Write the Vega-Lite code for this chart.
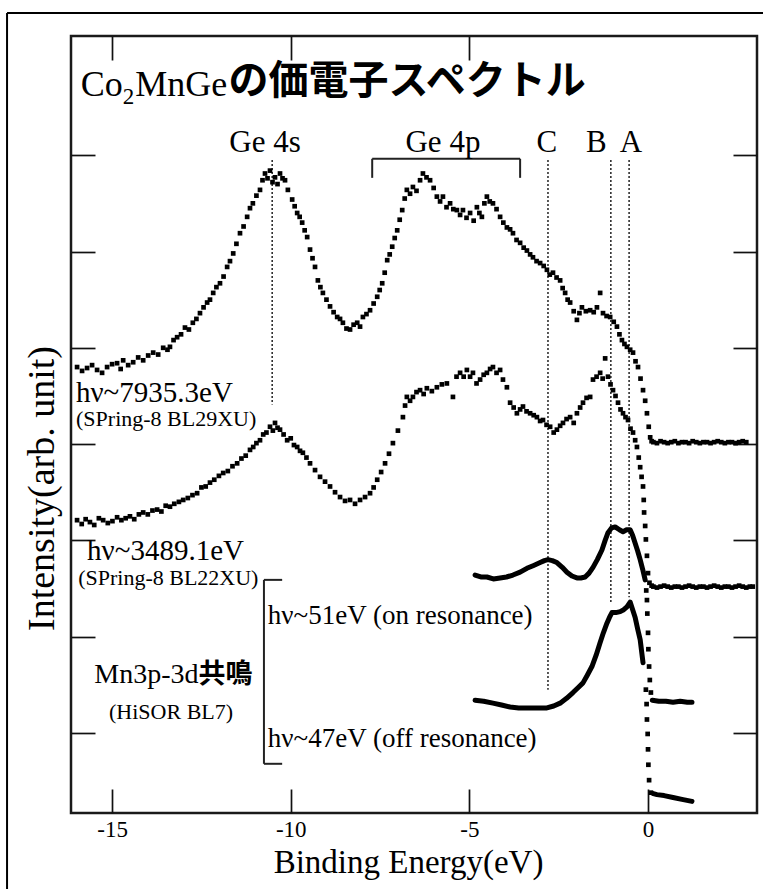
{
  "$schema": "https://vega.github.io/schema/vega-lite/v6.json",
  "width": 686,
  "height": 777,
  "autosize": "none",
  "padding": {"left": 71, "top": 36, "right": 6, "bottom": 76},
  "background": "white",
  "config": {
    "view": {"stroke": "#1a1a1a", "strokeWidth": 2.5},
    "axis": {"domain": false, "grid": false, "tickColor": "#111", "tickWidth": 1.7, "tickSize": -24, "labelFont": "Liberation Serif", "labelColor": "black", "titleFont": "Liberation Serif", "titleColor": "black", "titleFontWeight": "normal"}
  },
  "datasets": {
    "curves": [
      {"c":"a","k":"dot","x":-15.98,"y":4.80},{"c":"a","k":"dot","x":-15.84,"y":4.76},{"c":"a","k":"dot","x":-15.70,"y":4.79},{"c":"a","k":"dot","x":-15.56,"y":4.82},{"c":"a","k":"dot","x":-15.42,"y":4.77},{"c":"a","k":"dot","x":-15.28,"y":4.74},{"c":"a","k":"dot","x":-15.14,"y":4.80},{"c":"a","k":"dot","x":-15.00,"y":4.83},{"c":"a","k":"dot","x":-14.86,"y":4.84},{"c":"a","k":"dot","x":-14.76,"y":4.78},{"c":"a","k":"dot","x":-14.69,"y":4.87},{"c":"a","k":"dot","x":-14.55,"y":4.82},{"c":"a","k":"dot","x":-14.41,"y":4.85},{"c":"a","k":"dot","x":-14.27,"y":4.90},{"c":"a","k":"dot","x":-14.13,"y":4.87},{"c":"a","k":"dot","x":-13.99,"y":4.92},{"c":"a","k":"dot","x":-13.85,"y":4.95},{"c":"a","k":"dot","x":-13.71,"y":4.93},{"c":"a","k":"dot","x":-13.57,"y":5.00},{"c":"a","k":"dot","x":-13.45,"y":4.98},{"c":"a","k":"dot","x":-13.38,"y":5.01},{"c":"a","k":"dot","x":-13.28,"y":5.08},{"c":"a","k":"dot","x":-13.18,"y":5.11},{"c":"a","k":"dot","x":-13.07,"y":5.14},{"c":"a","k":"dot","x":-12.96,"y":5.21},{"c":"a","k":"dot","x":-12.85,"y":5.19},{"c":"a","k":"dot","x":-12.74,"y":5.26},{"c":"a","k":"dot","x":-12.64,"y":5.30},{"c":"a","k":"dot","x":-12.54,"y":5.36},{"c":"a","k":"dot","x":-12.44,"y":5.42},{"c":"a","k":"dot","x":-12.34,"y":5.47},{"c":"a","k":"dot","x":-12.26,"y":5.50},{"c":"a","k":"dot","x":-12.17,"y":5.57},{"c":"a","k":"dot","x":-12.08,"y":5.63},{"c":"a","k":"dot","x":-11.98,"y":5.67},{"c":"a","k":"dot","x":-11.88,"y":5.74},{"c":"a","k":"dot","x":-11.78,"y":5.84},{"c":"a","k":"dot","x":-11.70,"y":5.90},{"c":"a","k":"dot","x":-11.61,"y":5.98},{"c":"a","k":"dot","x":-11.52,"y":6.08},{"c":"a","k":"dot","x":-11.42,"y":6.19},{"c":"a","k":"dot","x":-11.32,"y":6.26},{"c":"a","k":"dot","x":-11.22,"y":6.36},{"c":"a","k":"dot","x":-11.14,"y":6.45},{"c":"a","k":"dot","x":-11.06,"y":6.50},{"c":"a","k":"dot","x":-10.96,"y":6.58},{"c":"a","k":"dot","x":-10.86,"y":6.64},{"c":"a","k":"dot","x":-10.79,"y":6.74},{"c":"a","k":"dot","x":-10.72,"y":6.81},{"c":"a","k":"dot","x":-10.65,"y":6.76},{"c":"a","k":"dot","x":-10.58,"y":6.84},{"c":"a","k":"dot","x":-10.51,"y":6.72},{"c":"a","k":"dot","x":-10.44,"y":6.77},{"c":"a","k":"dot","x":-10.37,"y":6.70},{"c":"a","k":"dot","x":-10.30,"y":6.81},{"c":"a","k":"dot","x":-10.23,"y":6.76},{"c":"a","k":"dot","x":-10.16,"y":6.74},{"c":"a","k":"dot","x":-10.08,"y":6.64},{"c":"a","k":"dot","x":-9.96,"y":6.54},{"c":"a","k":"dot","x":-9.89,"y":6.47},{"c":"a","k":"dot","x":-9.82,"y":6.40},{"c":"a","k":"dot","x":-9.75,"y":6.36},{"c":"a","k":"dot","x":-9.68,"y":6.30},{"c":"a","k":"dot","x":-9.61,"y":6.22},{"c":"a","k":"dot","x":-9.54,"y":6.15},{"c":"a","k":"dot","x":-9.46,"y":6.02},{"c":"a","k":"dot","x":-9.39,"y":5.93},{"c":"a","k":"dot","x":-9.32,"y":5.84},{"c":"a","k":"dot","x":-9.24,"y":5.70},{"c":"a","k":"dot","x":-9.17,"y":5.63},{"c":"a","k":"dot","x":-9.10,"y":5.57},{"c":"a","k":"dot","x":-9.00,"y":5.50},{"c":"a","k":"dot","x":-8.90,"y":5.43},{"c":"a","k":"dot","x":-8.80,"y":5.37},{"c":"a","k":"dot","x":-8.70,"y":5.32},{"c":"a","k":"dot","x":-8.62,"y":5.30},{"c":"a","k":"dot","x":-8.54,"y":5.26},{"c":"a","k":"dot","x":-8.44,"y":5.20},{"c":"a","k":"dot","x":-8.34,"y":5.19},{"c":"a","k":"dot","x":-8.24,"y":5.24},{"c":"a","k":"dot","x":-8.14,"y":5.26},{"c":"a","k":"dot","x":-8.06,"y":5.22},{"c":"a","k":"dot","x":-7.98,"y":5.32},{"c":"a","k":"dot","x":-7.88,"y":5.35},{"c":"a","k":"dot","x":-7.78,"y":5.39},{"c":"a","k":"dot","x":-7.68,"y":5.46},{"c":"a","k":"dot","x":-7.58,"y":5.53},{"c":"a","k":"dot","x":-7.51,"y":5.60},{"c":"a","k":"dot","x":-7.44,"y":5.67},{"c":"a","k":"dot","x":-7.37,"y":5.78},{"c":"a","k":"dot","x":-7.30,"y":5.91},{"c":"a","k":"dot","x":-7.23,"y":5.97},{"c":"a","k":"dot","x":-7.16,"y":6.05},{"c":"a","k":"dot","x":-7.09,"y":6.14},{"c":"a","k":"dot","x":-7.02,"y":6.22},{"c":"a","k":"dot","x":-6.95,"y":6.33},{"c":"a","k":"dot","x":-6.88,"y":6.43},{"c":"a","k":"dot","x":-6.81,"y":6.55},{"c":"a","k":"dot","x":-6.75,"y":6.64},{"c":"a","k":"dot","x":-6.66,"y":6.60},{"c":"a","k":"dot","x":-6.58,"y":6.67},{"c":"a","k":"dot","x":-6.48,"y":6.63},{"c":"a","k":"dot","x":-6.38,"y":6.74},{"c":"a","k":"dot","x":-6.30,"y":6.81},{"c":"a","k":"dot","x":-6.20,"y":6.77},{"c":"a","k":"dot","x":-6.10,"y":6.74},{"c":"a","k":"dot","x":-6.00,"y":6.66},{"c":"a","k":"dot","x":-5.91,"y":6.57},{"c":"a","k":"dot","x":-5.82,"y":6.52},{"c":"a","k":"dot","x":-5.74,"y":6.57},{"c":"a","k":"dot","x":-5.64,"y":6.46},{"c":"a","k":"dot","x":-5.54,"y":6.50},{"c":"a","k":"dot","x":-5.45,"y":6.44},{"c":"a","k":"dot","x":-5.35,"y":6.43},{"c":"a","k":"dot","x":-5.26,"y":6.38},{"c":"a","k":"dot","x":-5.18,"y":6.43},{"c":"a","k":"dot","x":-5.08,"y":6.35},{"c":"a","k":"dot","x":-4.98,"y":6.40},{"c":"a","k":"dot","x":-4.88,"y":6.32},{"c":"a","k":"dot","x":-4.79,"y":6.46},{"c":"a","k":"dot","x":-4.72,"y":6.40},{"c":"a","k":"dot","x":-4.65,"y":6.36},{"c":"a","k":"dot","x":-4.58,"y":6.50},{"c":"a","k":"dot","x":-4.51,"y":6.57},{"c":"a","k":"dot","x":-4.43,"y":6.52},{"c":"a","k":"dot","x":-4.34,"y":6.50},{"c":"a","k":"dot","x":-4.24,"y":6.44},{"c":"a","k":"dot","x":-4.14,"y":6.36},{"c":"a","k":"dot","x":-4.05,"y":6.30},{"c":"a","k":"dot","x":-3.95,"y":6.25},{"c":"a","k":"dot","x":-3.86,"y":6.23},{"c":"a","k":"dot","x":-3.78,"y":6.19},{"c":"a","k":"dot","x":-3.68,"y":6.12},{"c":"a","k":"dot","x":-3.58,"y":6.09},{"c":"a","k":"dot","x":-3.48,"y":6.04},{"c":"a","k":"dot","x":-3.39,"y":6.01},{"c":"a","k":"dot","x":-3.30,"y":5.97},{"c":"a","k":"dot","x":-3.22,"y":5.94},{"c":"a","k":"dot","x":-3.12,"y":5.90},{"c":"a","k":"dot","x":-3.02,"y":5.88},{"c":"a","k":"dot","x":-2.92,"y":5.85},{"c":"a","k":"dot","x":-2.83,"y":5.81},{"c":"a","k":"dot","x":-2.75,"y":5.76},{"c":"a","k":"dot","x":-2.66,"y":5.78},{"c":"a","k":"dot","x":-2.56,"y":5.73},{"c":"a","k":"dot","x":-2.46,"y":5.70},{"c":"a","k":"dot","x":-2.39,"y":5.62},{"c":"a","k":"dot","x":-2.32,"y":5.57},{"c":"a","k":"dot","x":-2.25,"y":5.50},{"c":"a","k":"dot","x":-2.18,"y":5.47},{"c":"a","k":"dot","x":-2.08,"y":5.38},{"c":"a","k":"dot","x":-1.99,"y":5.29},{"c":"a","k":"dot","x":-1.92,"y":5.36},{"c":"a","k":"dot","x":-1.85,"y":5.42},{"c":"a","k":"dot","x":-1.74,"y":5.38},{"c":"a","k":"dot","x":-1.62,"y":5.39},{"c":"a","k":"dot","x":-1.52,"y":5.37},{"c":"a","k":"dot","x":-1.43,"y":5.42},{"c":"a","k":"dot","x":-1.34,"y":5.57},{"c":"a","k":"dot","x":-1.26,"y":5.36},{"c":"a","k":"dot","x":-1.16,"y":5.33},{"c":"a","k":"dot","x":-1.06,"y":5.32},{"c":"a","k":"dot","x":-0.96,"y":5.27},{"c":"a","k":"dot","x":-0.87,"y":5.22},{"c":"a","k":"dot","x":-0.80,"y":5.14},{"c":"a","k":"dot","x":-0.73,"y":5.08},{"c":"a","k":"dot","x":-0.66,"y":5.04},{"c":"a","k":"dot","x":-0.59,"y":5.01},{"c":"a","k":"dot","x":-0.50,"y":4.98},{"c":"a","k":"dot","x":-0.42,"y":4.95},{"c":"a","k":"dot","x":-0.35,"y":4.86},{"c":"a","k":"dot","x":-0.28,"y":4.80},{"c":"a","k":"dot","x":-0.21,"y":4.68},{"c":"a","k":"dot","x":-0.14,"y":4.56},{"c":"a","k":"dot","x":-0.08,"y":4.45},{"c":"a","k":"dot","x":-0.03,"y":4.32},{"c":"a","k":"dot","x":0.02,"y":4.18},{"c":"a","k":"dot","x":0.06,"y":4.07},{"c":"a","k":"dot","x":0.10,"y":4.03},
      {"c":"a","k":"dot","x":0.15,"y":4.02},{"c":"a","k":"dot","x":0.25,"y":4.01},{"c":"a","k":"dot","x":0.35,"y":4.03},{"c":"a","k":"dot","x":0.45,"y":4.02},{"c":"a","k":"dot","x":0.55,"y":4.01},{"c":"a","k":"dot","x":0.65,"y":4.02},{"c":"a","k":"dot","x":0.75,"y":4.03},{"c":"a","k":"dot","x":0.85,"y":4.01},{"c":"a","k":"dot","x":0.95,"y":4.02},{"c":"a","k":"dot","x":1.05,"y":4.02},{"c":"a","k":"dot","x":1.15,"y":4.01},{"c":"a","k":"dot","x":1.25,"y":4.03},{"c":"a","k":"dot","x":1.35,"y":4.02},{"c":"a","k":"dot","x":1.45,"y":4.01},{"c":"a","k":"dot","x":1.55,"y":4.02},{"c":"a","k":"dot","x":1.65,"y":4.02},{"c":"a","k":"dot","x":1.75,"y":4.01},{"c":"a","k":"dot","x":1.85,"y":4.02},{"c":"a","k":"dot","x":1.95,"y":4.03},{"c":"a","k":"dot","x":2.05,"y":4.02},{"c":"a","k":"dot","x":2.15,"y":4.01},{"c":"a","k":"dot","x":2.25,"y":4.02},{"c":"a","k":"dot","x":2.35,"y":4.02},{"c":"a","k":"dot","x":2.45,"y":4.01},{"c":"a","k":"dot","x":2.55,"y":4.02},{"c":"a","k":"dot","x":2.65,"y":4.03},{"c":"a","k":"dot","x":2.75,"y":4.02},
      {"c":"b","k":"dot","x":-15.98,"y":3.21},{"c":"b","k":"dot","x":-15.85,"y":3.17},{"c":"b","k":"dot","x":-15.74,"y":3.22},{"c":"b","k":"dot","x":-15.62,"y":3.19},{"c":"b","k":"dot","x":-15.50,"y":3.16},{"c":"b","k":"dot","x":-15.37,"y":3.23},{"c":"b","k":"dot","x":-15.25,"y":3.21},{"c":"b","k":"dot","x":-15.12,"y":3.18},{"c":"b","k":"dot","x":-14.99,"y":3.20},{"c":"b","k":"dot","x":-14.86,"y":3.24},{"c":"b","k":"dot","x":-14.74,"y":3.21},{"c":"b","k":"dot","x":-14.62,"y":3.23},{"c":"b","k":"dot","x":-14.50,"y":3.25},{"c":"b","k":"dot","x":-14.38,"y":3.22},{"c":"b","k":"dot","x":-14.25,"y":3.27},{"c":"b","k":"dot","x":-14.13,"y":3.29},{"c":"b","k":"dot","x":-14.00,"y":3.27},{"c":"b","k":"dot","x":-13.87,"y":3.31},{"c":"b","k":"dot","x":-13.74,"y":3.32},{"c":"b","k":"dot","x":-13.62,"y":3.30},{"c":"b","k":"dot","x":-13.50,"y":3.36},{"c":"b","k":"dot","x":-13.38,"y":3.35},{"c":"b","k":"dot","x":-13.26,"y":3.38},{"c":"b","k":"dot","x":-13.13,"y":3.40},{"c":"b","k":"dot","x":-13.01,"y":3.42},{"c":"b","k":"dot","x":-12.88,"y":3.44},{"c":"b","k":"dot","x":-12.75,"y":3.47},{"c":"b","k":"dot","x":-12.62,"y":3.49},{"c":"b","k":"dot","x":-12.50,"y":3.55},{"c":"b","k":"dot","x":-12.38,"y":3.56},{"c":"b","k":"dot","x":-12.26,"y":3.60},{"c":"b","k":"dot","x":-12.14,"y":3.63},{"c":"b","k":"dot","x":-12.01,"y":3.67},{"c":"b","k":"dot","x":-11.89,"y":3.70},{"c":"b","k":"dot","x":-11.76,"y":3.72},{"c":"b","k":"dot","x":-11.63,"y":3.77},{"c":"b","k":"dot","x":-11.50,"y":3.80},{"c":"b","k":"dot","x":-11.38,"y":3.85},{"c":"b","k":"dot","x":-11.26,"y":3.88},{"c":"b","k":"dot","x":-11.14,"y":3.94},{"c":"b","k":"dot","x":-11.05,"y":3.97},{"c":"b","k":"dot","x":-10.96,"y":4.01},{"c":"b","k":"dot","x":-10.86,"y":4.04},{"c":"b","k":"dot","x":-10.77,"y":4.10},{"c":"b","k":"dot","x":-10.68,"y":4.12},{"c":"b","k":"dot","x":-10.58,"y":4.18},{"c":"b","k":"dot","x":-10.50,"y":4.14},{"c":"b","k":"dot","x":-10.44,"y":4.22},{"c":"b","k":"dot","x":-10.37,"y":4.17},{"c":"b","k":"dot","x":-10.30,"y":4.15},{"c":"b","k":"dot","x":-10.20,"y":4.10},{"c":"b","k":"dot","x":-10.10,"y":4.04},{"c":"b","k":"dot","x":-10.00,"y":4.06},{"c":"b","k":"dot","x":-9.91,"y":3.99},{"c":"b","k":"dot","x":-9.82,"y":3.97},{"c":"b","k":"dot","x":-9.74,"y":3.93},{"c":"b","k":"dot","x":-9.66,"y":3.91},{"c":"b","k":"dot","x":-9.56,"y":3.86},{"c":"b","k":"dot","x":-9.46,"y":3.80},{"c":"b","k":"dot","x":-9.32,"y":3.73},{"c":"b","k":"dot","x":-9.18,"y":3.66},{"c":"b","k":"dot","x":-9.04,"y":3.61},{"c":"b","k":"dot","x":-8.90,"y":3.56},{"c":"b","k":"dot","x":-8.76,"y":3.50},{"c":"b","k":"dot","x":-8.62,"y":3.45},{"c":"b","k":"dot","x":-8.48,"y":3.41},{"c":"b","k":"dot","x":-8.34,"y":3.42},{"c":"b","k":"dot","x":-8.20,"y":3.38},{"c":"b","k":"dot","x":-8.06,"y":3.42},{"c":"b","k":"dot","x":-7.92,"y":3.45},{"c":"b","k":"dot","x":-7.78,"y":3.49},{"c":"b","k":"dot","x":-7.68,"y":3.55},{"c":"b","k":"dot","x":-7.58,"y":3.63},{"c":"b","k":"dot","x":-7.47,"y":3.71},{"c":"b","k":"dot","x":-7.36,"y":3.80},{"c":"b","k":"dot","x":-7.25,"y":3.90},{"c":"b","k":"dot","x":-7.14,"y":4.01},{"c":"b","k":"dot","x":-7.00,"y":4.14},{"c":"b","k":"dot","x":-6.86,"y":4.28},{"c":"b","k":"dot","x":-6.80,"y":4.40},{"c":"b","k":"dot","x":-6.75,"y":4.49},{"c":"b","k":"dot","x":-6.66,"y":4.45},{"c":"b","k":"dot","x":-6.58,"y":4.49},{"c":"b","k":"dot","x":-6.48,"y":4.54},{"c":"b","k":"dot","x":-6.38,"y":4.56},{"c":"b","k":"dot","x":-6.28,"y":4.52},{"c":"b","k":"dot","x":-6.19,"y":4.58},{"c":"b","k":"dot","x":-6.05,"y":4.55},{"c":"b","k":"dot","x":-5.91,"y":4.59},{"c":"b","k":"dot","x":-5.77,"y":4.62},{"c":"b","k":"dot","x":-5.63,"y":4.63},{"c":"b","k":"dot","x":-5.46,"y":4.49},{"c":"b","k":"dot","x":-5.36,"y":4.70},{"c":"b","k":"dot","x":-5.26,"y":4.74},{"c":"b","k":"dot","x":-5.16,"y":4.70},{"c":"b","k":"dot","x":-5.07,"y":4.77},{"c":"b","k":"dot","x":-4.98,"y":4.70},{"c":"b","k":"dot","x":-4.90,"y":4.74},{"c":"b","k":"dot","x":-4.80,"y":4.63},{"c":"b","k":"dot","x":-4.70,"y":4.67},{"c":"b","k":"dot","x":-4.60,"y":4.72},{"c":"b","k":"dot","x":-4.51,"y":4.74},{"c":"b","k":"dot","x":-4.42,"y":4.78},{"c":"b","k":"dot","x":-4.34,"y":4.80},{"c":"b","k":"dot","x":-4.24,"y":4.74},{"c":"b","k":"dot","x":-4.14,"y":4.77},{"c":"b","k":"dot","x":-4.06,"y":4.67},{"c":"b","k":"dot","x":-3.95,"y":4.59},{"c":"b","k":"dot","x":-3.86,"y":4.43},{"c":"b","k":"dot","x":-3.76,"y":4.38},{"c":"b","k":"dot","x":-3.67,"y":4.32},{"c":"b","k":"dot","x":-3.58,"y":4.36},{"c":"b","k":"dot","x":-3.50,"y":4.39},{"c":"b","k":"dot","x":-3.40,"y":4.34},{"c":"b","k":"dot","x":-3.30,"y":4.32},{"c":"b","k":"dot","x":-3.20,"y":4.30},{"c":"b","k":"dot","x":-3.11,"y":4.28},{"c":"b","k":"dot","x":-3.02,"y":4.24},{"c":"b","k":"dot","x":-2.94,"y":4.25},{"c":"b","k":"dot","x":-2.84,"y":4.20},{"c":"b","k":"dot","x":-2.74,"y":4.18},{"c":"b","k":"dot","x":-2.64,"y":4.12},{"c":"b","k":"dot","x":-2.55,"y":4.15},{"c":"b","k":"dot","x":-2.46,"y":4.19},{"c":"b","k":"dot","x":-2.38,"y":4.22},{"c":"b","k":"dot","x":-2.28,"y":4.26},{"c":"b","k":"dot","x":-2.18,"y":4.28},{"c":"b","k":"dot","x":-2.08,"y":4.22},{"c":"b","k":"dot","x":-1.99,"y":4.32},{"c":"b","k":"dot","x":-1.90,"y":4.38},{"c":"b","k":"dot","x":-1.82,"y":4.43},{"c":"b","k":"dot","x":-1.72,"y":4.48},{"c":"b","k":"dot","x":-1.62,"y":4.49},{"c":"b","k":"dot","x":-1.54,"y":4.67},{"c":"b","k":"dot","x":-1.44,"y":4.70},{"c":"b","k":"dot","x":-1.34,"y":4.74},{"c":"b","k":"dot","x":-1.27,"y":4.68},{"c":"b","k":"dot","x":-1.20,"y":4.89},{"c":"b","k":"dot","x":-1.12,"y":4.70},{"c":"b","k":"dot","x":-1.05,"y":4.62},{"c":"b","k":"dot","x":-0.98,"y":4.56},{"c":"b","k":"dot","x":-0.91,"y":4.50},{"c":"b","k":"dot","x":-0.84,"y":4.43},{"c":"b","k":"dot","x":-0.77,"y":4.36},{"c":"b","k":"dot","x":-0.70,"y":4.32},{"c":"b","k":"dot","x":-0.63,"y":4.28},{"c":"b","k":"dot","x":-0.56,"y":4.25},{"c":"b","k":"dot","x":-0.49,"y":4.16},{"c":"b","k":"dot","x":-0.42,"y":4.12},{"c":"b","k":"dot","x":-0.36,"y":4.04},{"c":"b","k":"dot","x":-0.31,"y":3.97},{"c":"b","k":"dot","x":-0.26,"y":3.86},{"c":"b","k":"dot","x":-0.22,"y":3.76},{"c":"b","k":"dot","x":-0.18,"y":3.66},{"c":"b","k":"dot","x":-0.14,"y":3.56},{"c":"b","k":"dot","x":-0.12,"y":3.42},{"c":"b","k":"dot","x":-0.11,"y":3.29},{"c":"b","k":"dot","x":-0.08,"y":3.15},{"c":"b","k":"dot","x":-0.06,"y":3.01},{"c":"b","k":"dot","x":-0.03,"y":2.84},{"c":"b","k":"dot","x":0.00,"y":2.66},{"c":"b","k":"dot","x":0.04,"y":2.56},{"c":"b","k":"dot","x":0.10,"y":2.53},
      {"c":"b","k":"dot","x":0.15,"y":2.52},{"c":"b","k":"dot","x":0.25,"y":2.51},{"c":"b","k":"dot","x":0.35,"y":2.52},{"c":"b","k":"dot","x":0.45,"y":2.53},{"c":"b","k":"dot","x":0.55,"y":2.52},{"c":"b","k":"dot","x":0.65,"y":2.51},{"c":"b","k":"dot","x":0.75,"y":2.52},{"c":"b","k":"dot","x":0.85,"y":2.52},{"c":"b","k":"dot","x":0.95,"y":2.51},{"c":"b","k":"dot","x":1.05,"y":2.52},{"c":"b","k":"dot","x":1.15,"y":2.53},{"c":"b","k":"dot","x":1.25,"y":2.52},{"c":"b","k":"dot","x":1.35,"y":2.51},{"c":"b","k":"dot","x":1.45,"y":2.52},{"c":"b","k":"dot","x":1.55,"y":2.52},{"c":"b","k":"dot","x":1.65,"y":2.51},{"c":"b","k":"dot","x":1.75,"y":2.52},{"c":"b","k":"dot","x":1.85,"y":2.53},{"c":"b","k":"dot","x":1.95,"y":2.52},{"c":"b","k":"dot","x":2.05,"y":2.51},{"c":"b","k":"dot","x":2.15,"y":2.52},{"c":"b","k":"dot","x":2.25,"y":2.52},{"c":"b","k":"dot","x":2.35,"y":2.51},{"c":"b","k":"dot","x":2.45,"y":2.52},{"c":"b","k":"dot","x":2.55,"y":2.53},{"c":"b","k":"dot","x":2.65,"y":2.52},{"c":"b","k":"dot","x":2.75,"y":2.51},{"c":"b","k":"dot","x":2.85,"y":2.52},{"c":"b","k":"dot","x":2.93,"y":2.52},
      {"c":"c","k":"line","g":"c1","x":-4.84,"y":2.64},{"c":"c","k":"line","g":"c1","x":-4.68,"y":2.62},{"c":"c","k":"line","g":"c1","x":-4.51,"y":2.62},{"c":"c","k":"line","g":"c1","x":-4.33,"y":2.60},{"c":"c","k":"line","g":"c1","x":-4.14,"y":2.61},{"c":"c","k":"line","g":"c1","x":-3.96,"y":2.62},{"c":"c","k":"line","g":"c1","x":-3.78,"y":2.64},{"c":"c","k":"line","g":"c1","x":-3.58,"y":2.67},{"c":"c","k":"line","g":"c1","x":-3.39,"y":2.71},{"c":"c","k":"line","g":"c1","x":-3.20,"y":2.74},{"c":"c","k":"line","g":"c1","x":-3.02,"y":2.77},{"c":"c","k":"line","g":"c1","x":-2.90,"y":2.79},{"c":"c","k":"line","g":"c1","x":-2.80,"y":2.80},{"c":"c","k":"line","g":"c1","x":-2.68,"y":2.79},{"c":"c","k":"line","g":"c1","x":-2.55,"y":2.77},{"c":"c","k":"line","g":"c1","x":-2.40,"y":2.72},{"c":"c","k":"line","g":"c1","x":-2.27,"y":2.67},{"c":"c","k":"line","g":"c1","x":-2.13,"y":2.63},{"c":"c","k":"line","g":"c1","x":-1.99,"y":2.61},{"c":"c","k":"line","g":"c1","x":-1.88,"y":2.61},{"c":"c","k":"line","g":"c1","x":-1.76,"y":2.62},{"c":"c","k":"line","g":"c1","x":-1.65,"y":2.66},{"c":"c","k":"line","g":"c1","x":-1.54,"y":2.72},{"c":"c","k":"line","g":"c1","x":-1.42,"y":2.80},{"c":"c","k":"line","g":"c1","x":-1.29,"y":2.90},{"c":"c","k":"line","g":"c1","x":-1.20,"y":3.00},{"c":"c","k":"line","g":"c1","x":-1.12,"y":3.08},{"c":"c","k":"line","g":"c1","x":-1.02,"y":3.13},{"c":"c","k":"line","g":"c1","x":-0.92,"y":3.14},{"c":"c","k":"line","g":"c1","x":-0.80,"y":3.11},{"c":"c","k":"line","g":"c1","x":-0.70,"y":3.09},{"c":"c","k":"line","g":"c1","x":-0.60,"y":3.11},{"c":"c","k":"line","g":"c1","x":-0.50,"y":3.11},{"c":"c","k":"line","g":"c1","x":-0.43,"y":3.05},{"c":"c","k":"line","g":"c1","x":-0.36,"y":2.97},{"c":"c","k":"line","g":"c1","x":-0.29,"y":2.89},{"c":"c","k":"line","g":"c1","x":-0.22,"y":2.80},{"c":"c","k":"line","g":"c1","x":-0.15,"y":2.70},{"c":"c","k":"line","g":"c1","x":-0.08,"y":2.59},
      {"c":"c","k":"dot","x":-0.05,"y":2.48},{"c":"c","k":"dot","x":-0.03,"y":2.38},{"c":"c","k":"dot","x":-0.02,"y":2.24},{"c":"c","k":"dot","x":0.00,"y":2.04},{"c":"c","k":"dot","x":0.01,"y":1.87},{"c":"c","k":"dot","x":0.03,"y":1.69},{"c":"c","k":"dot","x":0.05,"y":1.55},{"c":"c","k":"dot","x":0.08,"y":1.42},
      {"c":"c","k":"line","g":"c2","x":0.12,"y":1.34},{"c":"c","k":"line","g":"c2","x":0.30,"y":1.33},{"c":"c","k":"line","g":"c2","x":0.50,"y":1.33},{"c":"c","k":"line","g":"c2","x":0.70,"y":1.32},{"c":"c","k":"line","g":"c2","x":0.90,"y":1.33},{"c":"c","k":"line","g":"c2","x":1.10,"y":1.32},{"c":"c","k":"line","g":"c2","x":1.23,"y":1.32},
      {"c":"d","k":"line","g":"d1","x":-4.84,"y":1.34},{"c":"d","k":"line","g":"d1","x":-4.60,"y":1.33},{"c":"d","k":"line","g":"d1","x":-4.34,"y":1.31},{"c":"d","k":"line","g":"d1","x":-4.10,"y":1.29},{"c":"d","k":"line","g":"d1","x":-3.86,"y":1.27},{"c":"d","k":"line","g":"d1","x":-3.62,"y":1.26},{"c":"d","k":"line","g":"d1","x":-3.39,"y":1.26},{"c":"d","k":"line","g":"d1","x":-3.10,"y":1.26},{"c":"d","k":"line","g":"d1","x":-2.83,"y":1.26},{"c":"d","k":"line","g":"d1","x":-2.64,"y":1.28},{"c":"d","k":"line","g":"d1","x":-2.46,"y":1.31},{"c":"d","k":"line","g":"d1","x":-2.28,"y":1.36},{"c":"d","k":"line","g":"d1","x":-2.10,"y":1.42},{"c":"d","k":"line","g":"d1","x":-1.96,"y":1.47},{"c":"d","k":"line","g":"d1","x":-1.82,"y":1.52},{"c":"d","k":"line","g":"d1","x":-1.70,"y":1.60},{"c":"d","k":"line","g":"d1","x":-1.57,"y":1.69},{"c":"d","k":"line","g":"d1","x":-1.45,"y":1.81},{"c":"d","k":"line","g":"d1","x":-1.34,"y":1.94},{"c":"d","k":"line","g":"d1","x":-1.25,"y":2.04},{"c":"d","k":"line","g":"d1","x":-1.15,"y":2.14},{"c":"d","k":"line","g":"d1","x":-1.08,"y":2.20},{"c":"d","k":"line","g":"d1","x":-1.01,"y":2.25},{"c":"d","k":"line","g":"d1","x":-0.90,"y":2.25},{"c":"d","k":"line","g":"d1","x":-0.78,"y":2.26},{"c":"d","k":"line","g":"d1","x":-0.68,"y":2.28},{"c":"d","k":"line","g":"d1","x":-0.59,"y":2.31},{"c":"d","k":"line","g":"d1","x":-0.50,"y":2.36},{"c":"d","k":"line","g":"d1","x":-0.43,"y":2.28},{"c":"d","k":"line","g":"d1","x":-0.36,"y":2.20},{"c":"d","k":"line","g":"d1","x":-0.29,"y":2.08},{"c":"d","k":"line","g":"d1","x":-0.22,"y":1.97},{"c":"d","k":"line","g":"d1","x":-0.14,"y":1.73},
      {"c":"d","k":"dot","x":-0.06,"y":1.45},{"c":"d","k":"dot","x":-0.04,"y":1.30},{"c":"d","k":"dot","x":-0.03,"y":1.14},{"c":"d","k":"dot","x":-0.01,"y":0.99},{"c":"d","k":"dot","x":0.00,"y":0.83},{"c":"d","k":"dot","x":0.01,"y":0.67},{"c":"d","k":"dot","x":0.03,"y":0.51},{"c":"d","k":"dot","x":0.08,"y":0.38},
      {"c":"d","k":"line","g":"d2","x":0.15,"y":0.37},{"c":"d","k":"line","g":"d2","x":0.25,"y":0.36},{"c":"d","k":"line","g":"d2","x":0.45,"y":0.35},{"c":"d","k":"line","g":"d2","x":0.70,"y":0.33},{"c":"d","k":"line","g":"d2","x":0.95,"y":0.31},{"c":"d","k":"line","g":"d2","x":1.23,"y":0.29}
    ]
  },
  "layer": [
    {
      "data": {"values": [
        {"x": -17.94, "x2": 4.5, "y": 8.477, "y2": 8.477},
        {"x": -17.94, "x2": -17.94, "y": 8.477, "y2": -1.5}
      ]},
      "mark": {"type": "rule", "color": "black", "strokeWidth": 2, "clip": false},
      "encoding": {
        "x": {"field": "x", "type": "quantitative", "scale": {"domain": [-16.15, 3.05], "nice": false, "zero": false}, "axis": null},
        "x2": {"field": "x2"},
        "y": {"field": "y", "type": "quantitative", "scale": {"domain": [0.169, 8.238], "nice": false, "zero": false}, "axis": null},
        "y2": {"field": "y2"}
      }
    },
    {
      "mark": {"type": "rule", "color": "black", "strokeWidth": 2},
      "encoding": {
        "x": {"datum": 0, "type": "quantitative", "scale": {"domain": [-16.15, 3.05], "nice": false, "zero": false}, "axis": null}
      }
    },
    {
      "data": {"values": [
        {"x": -10.52, "x2": -10.52, "y": 6.95, "y2": 4.41},
        {"x": -2.80, "x2": -2.80, "y": 6.95, "y2": 1.45},
        {"x": -1.04, "x2": -1.04, "y": 6.95, "y2": 2.36},
        {"x": -0.53, "x2": -0.53, "y": 6.95, "y2": 2.41}
      ]},
      "mark": {"type": "rule", "color": "black", "strokeWidth": 1.3, "strokeDash": [2, 2]},
      "encoding": {
        "x": {"field": "x", "type": "quantitative", "scale": {"domain": [-16.15, 3.05], "nice": false, "zero": false}, "axis": null},
        "x2": {"field": "x2"},
        "y": {"field": "y", "type": "quantitative", "scale": {"domain": [0.169, 8.238], "nice": false, "zero": false}, "axis": null},
        "y2": {"field": "y2"}
      }
    },
    {
      "data": {"values": [
        {"x": -7.72, "x2": -3.58, "y": 6.963, "y2": 6.963},
        {"x": -7.72, "x2": -7.72, "y": 6.963, "y2": 6.765},
        {"x": -3.58, "x2": -3.58, "y": 6.963, "y2": 6.765},
        {"x": -10.75, "x2": -10.75, "y": 2.59, "y2": 0.68},
        {"x": -10.75, "x2": -10.24, "y": 2.59, "y2": 2.59},
        {"x": -10.75, "x2": -10.24, "y": 0.68, "y2": 0.68}
      ]},
      "mark": {"type": "rule", "color": "#222", "strokeWidth": 2},
      "encoding": {
        "x": {"field": "x", "type": "quantitative", "scale": {"domain": [-16.15, 3.05], "nice": false, "zero": false}, "axis": null},
        "x2": {"field": "x2"},
        "y": {"field": "y", "type": "quantitative", "scale": {"domain": [0.169, 8.238], "nice": false, "zero": false}, "axis": null},
        "y2": {"field": "y2"}
      }
    },
    {
      "data": {"name": "curves"},
      "transform": [{"filter": "datum.k === 'dot'"}],
      "mark": {"type": "point", "shape": "square", "filled": true, "size": 22, "color": "black", "opacity": 1},
      "encoding": {
        "x": {"field": "x", "type": "quantitative", "scale": {"domain": [-16.15, 3.05], "nice": false, "zero": false},
          "axis": {"orient": "bottom", "values": [-15, -10, -5, 0], "labelExpr": "'' + datum.value", "labelFontSize": 23, "labelPadding": 29, "title": "Binding Energy(eV)", "titleFontSize": 33, "titleX": 337, "titleY": 59, "titleAlign": "center", "titleBaseline": "alphabetic"}},
        "y": {"field": "y", "type": "quantitative", "scale": {"domain": [0.169, 8.238], "nice": false, "zero": false},
          "axis": {"orient": "left", "values": [1, 2, 3, 4, 5, 6, 7], "labels": false, "title": "Intensity(arb. unit)", "titleFontSize": 38, "titleX": -29, "titleY": 452, "titleAngle": -90, "titleAlign": "center", "titleBaseline": "middle"}}
      }
    },
    {
      "data": {"name": "curves"},
      "transform": [{"filter": "datum.k === 'line'"}],
      "mark": {"type": "line", "color": "black", "strokeWidth": 5, "strokeCap": "round", "strokeJoin": "round"},
      "encoding": {
        "x": {"field": "x", "type": "quantitative", "scale": {"domain": [-16.15, 3.05], "nice": false, "zero": false},
          "axis": {"orient": "top", "values": [-15, -10, -5], "labels": false, "title": null}},
        "y": {"field": "y", "type": "quantitative", "scale": {"domain": [0.169, 8.238], "nice": false, "zero": false},
          "axis": {"orient": "right", "values": [1, 2, 3, 4, 5, 6, 7], "labels": false, "title": null}},
        "detail": {"field": "g"}
      }
    },
    {
      "data": {"values": [{"t": "Co", "x": -14.70, "y": 7.61}, {"t": "MnGe", "x": -11.78, "y": 7.61}]},
      "mark": {"type": "text", "font": "Liberation Serif", "fontSize": 36, "align": "right", "baseline": "alphabetic", "color": "black"},
      "encoding": {
        "x": {"field": "x", "type": "quantitative", "scale": {"domain": [-16.15, 3.05], "nice": false, "zero": false}, "axis": null},
        "y": {"field": "y", "type": "quantitative", "scale": {"domain": [0.169, 8.238], "nice": false, "zero": false}, "axis": null},
        "text": {"field": "t"}
      }
    },
    {
      "data": {"values": [{"t": "2", "x": -14.38, "y": 7.53}]},
      "mark": {"type": "text", "font": "Liberation Serif", "fontSize": 23, "align": "right", "baseline": "alphabetic", "color": "black"},
      "encoding": {
        "x": {"field": "x", "type": "quantitative", "scale": {"domain": [-16.15, 3.05], "nice": false, "zero": false}, "axis": null},
        "y": {"field": "y", "type": "quantitative", "scale": {"domain": [0.169, 8.238], "nice": false, "zero": false}, "axis": null},
        "text": {"field": "t"}
      }
    },
    {
      "data": {"values": [{"t": "の価電子スペクトル", "x": -11.74, "y": 7.64}]},
      "mark": {"type": "text", "font": "Noto Sans CJK JP", "fontWeight": "bold", "fontSize": 40, "align": "left", "baseline": "alphabetic", "color": "black"},
      "encoding": {
        "x": {"field": "x", "type": "quantitative", "scale": {"domain": [-16.15, 3.05], "nice": false, "zero": false}, "axis": null},
        "y": {"field": "y", "type": "quantitative", "scale": {"domain": [0.169, 8.238], "nice": false, "zero": false}, "axis": null},
        "text": {"field": "t"}
      }
    },
    {
      "data": {"values": [
        {"t": "Ge 4s", "x": -10.72, "y": 7.03},
        {"t": "Ge 4p", "x": -5.74, "y": 7.03},
        {"t": "C", "x": -2.83, "y": 7.03},
        {"t": "B", "x": -1.45, "y": 7.03},
        {"t": "A", "x": -0.48, "y": 7.03}
      ]},
      "mark": {"type": "text", "font": "Liberation Serif", "fontSize": 31, "align": "center", "baseline": "alphabetic", "color": "black"},
      "encoding": {
        "x": {"field": "x", "type": "quantitative", "scale": {"domain": [-16.15, 3.05], "nice": false, "zero": false}, "axis": null},
        "y": {"field": "y", "type": "quantitative", "scale": {"domain": [0.169, 8.238], "nice": false, "zero": false}, "axis": null},
        "text": {"field": "t"}
      }
    },
    {
      "data": {"values": [
        {"t": "hν~7935.3eV", "x": -16.01, "y": 4.44},
        {"t": "hν~3489.1eV", "x": -15.70, "y": 2.80}
      ]},
      "mark": {"type": "text", "font": "Liberation Serif", "fontSize": 29, "align": "left", "baseline": "alphabetic", "color": "black"},
      "encoding": {
        "x": {"field": "x", "type": "quantitative", "scale": {"domain": [-16.15, 3.05], "nice": false, "zero": false}, "axis": null},
        "y": {"field": "y", "type": "quantitative", "scale": {"domain": [0.169, 8.238], "nice": false, "zero": false}, "axis": null},
        "text": {"field": "t"}
      }
    },
    {
      "data": {"values": [
        {"t": "(SPring-8 BL29XU)", "x": -16.01, "y": 4.19},
        {"t": "(SPring-8 BL22XU)", "x": -15.95, "y": 2.54}
      ]},
      "mark": {"type": "text", "font": "Liberation Serif", "fontSize": 22, "align": "left", "baseline": "alphabetic", "color": "black"},
      "encoding": {
        "x": {"field": "x", "type": "quantitative", "scale": {"domain": [-16.15, 3.05], "nice": false, "zero": false}, "axis": null},
        "y": {"field": "y", "type": "quantitative", "scale": {"domain": [0.169, 8.238], "nice": false, "zero": false}, "axis": null},
        "text": {"field": "t"}
      }
    },
    {
      "data": {"values": [
        {"t": "hν~51eV (on resonance)", "x": -10.64, "y": 2.13},
        {"t": "hν~47eV (off resonance)", "x": -10.64, "y": 0.85}
      ]},
      "mark": {"type": "text", "font": "Liberation Serif", "fontSize": 27, "align": "left", "baseline": "alphabetic", "color": "black"},
      "encoding": {
        "x": {"field": "x", "type": "quantitative", "scale": {"domain": [-16.15, 3.05], "nice": false, "zero": false}, "axis": null},
        "y": {"field": "y", "type": "quantitative", "scale": {"domain": [0.169, 8.238], "nice": false, "zero": false}, "axis": null},
        "text": {"field": "t"}
      }
    },
    {
      "data": {"values": [{"t": "Mn3p-3d", "x": -12.58, "y": 1.52}]},
      "mark": {"type": "text", "font": "Liberation Serif", "fontSize": 28, "align": "right", "baseline": "alphabetic", "color": "black"},
      "encoding": {
        "x": {"field": "x", "type": "quantitative", "scale": {"domain": [-16.15, 3.05], "nice": false, "zero": false}, "axis": null},
        "y": {"field": "y", "type": "quantitative", "scale": {"domain": [0.169, 8.238], "nice": false, "zero": false}, "axis": null},
        "text": {"field": "t"}
      }
    },
    {
      "data": {"values": [{"t": "共鳴", "x": -12.58, "y": 1.52}]},
      "mark": {"type": "text", "font": "Noto Sans CJK JP", "fontWeight": "bold", "fontSize": 27, "align": "left", "baseline": "alphabetic", "color": "black"},
      "encoding": {
        "x": {"field": "x", "type": "quantitative", "scale": {"domain": [-16.15, 3.05], "nice": false, "zero": false}, "axis": null},
        "y": {"field": "y", "type": "quantitative", "scale": {"domain": [0.169, 8.238], "nice": false, "zero": false}, "axis": null},
        "text": {"field": "t"}
      }
    },
    {
      "data": {"values": [{"t": "(HiSOR BL7)", "x": -13.35, "y": 1.14}]},
      "mark": {"type": "text", "font": "Liberation Serif", "fontSize": 22, "align": "center", "baseline": "alphabetic", "color": "black"},
      "encoding": {
        "x": {"field": "x", "type": "quantitative", "scale": {"domain": [-16.15, 3.05], "nice": false, "zero": false}, "axis": null},
        "y": {"field": "y", "type": "quantitative", "scale": {"domain": [0.169, 8.238], "nice": false, "zero": false}, "axis": null},
        "text": {"field": "t"}
      }
    }
  ],
  "resolve": {"axis": {"x": "independent", "y": "independent"}}
}
